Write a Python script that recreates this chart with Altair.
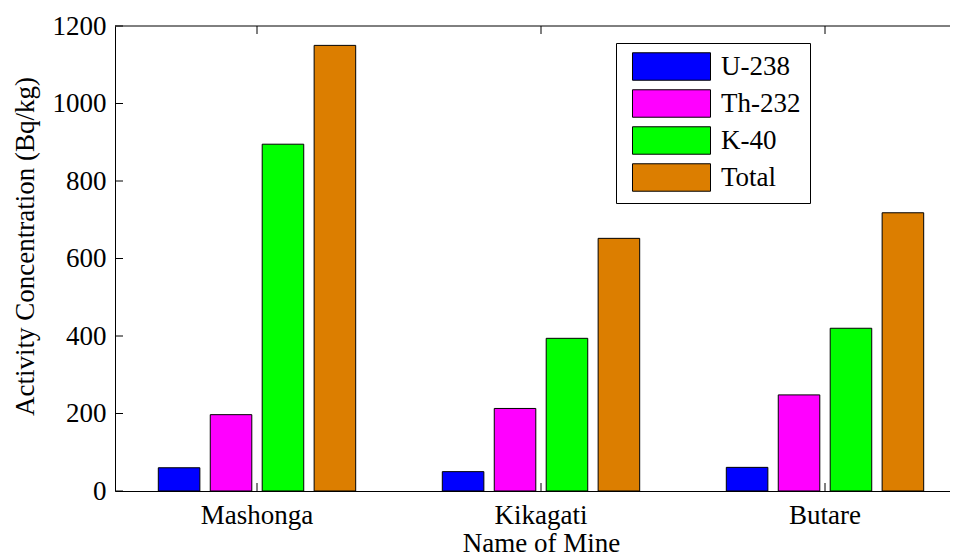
import altair as alt
import pandas as pd

# ---- data ----
mines = ["Mashonga", "Kikagati", "Butare"]
isotopes = ["U-238", "Th-232", "K-40", "Total"]
u238 = [60, 50, 61]
th232 = [197, 213, 248]
k40 = [895, 394, 420]
total = [1150, 652, 718]
colors = ["#0000FF", "#FF00FF", "#00FF00", "#DC7E00"]
y_ticks = [0, 200, 400, 600, 800, 1000, 1200]

rows = []
for i, m in enumerate(mines):
    for iso, vals in zip(isotopes, [u238, th232, k40, total]):
        rows.append({"mine": m, "isotope": iso, "value": vals[i]})
df = pd.DataFrame(rows)
mine_df = pd.DataFrame({"mine": mines})
ytick_df = pd.DataFrame({"value": y_ticks})
one_df = pd.DataFrame({"a": [0]})

# ---- layout ----
W, H = 835, 465          # visible plot area (page is cropped on the right)
RANGE_W = 852            # full x extent of the axes, partly beyond the page
FONT = "Liberation Serif"
FS = 27

xscale = alt.Scale(domain=mines, range=[0, RANGE_W], paddingInner=0.305, paddingOuter=0.1525)
yscale = alt.Scale(domain=[0, 1200], nice=False, zero=True)

xaxis = alt.Axis(title="Name of Mine", orient="bottom", labelAngle=0,
                 ticks=False, tickSize=0, labelPadding=11, titlePadding=2,
                 domain=True, domainColor="black", domainWidth=1, grid=False)
yaxis = alt.Axis(values=y_ticks, format="d", title="Activity Concentration (Bq/kg)",
                 ticks=False, tickSize=0, labelPadding=9, titlePadding=13, titleY=220,
                 domain=True, domainColor="black", domainWidth=1, grid=False)

bars = alt.Chart(df).mark_bar(stroke="black", strokeWidth=1, opacity=1).encode(
    x=alt.X("mine:N", scale=xscale, sort=mines, axis=xaxis),
    xOffset=alt.XOffset("isotope:N", sort=isotopes,
                        scale=alt.Scale(domain=isotopes, paddingInner=0.2, paddingOuter=0)),
    y=alt.Y("value:Q", scale=yscale, axis=yaxis),
    color=alt.Color("isotope:N", sort=isotopes,
                    scale=alt.Scale(domain=isotopes, range=colors),
                    legend=alt.Legend(
                        title=None, orient="none", legendX=501, legendY=17,
                        fillColor="white", strokeColor="black", padding=9,
                        symbolType="M-2.786,-0.98L2.786,-0.98L2.786,0.98L-2.786,0.98Z",
                        symbolSize=784, symbolStrokeColor="black", symbolStrokeWidth=1,
                        symbolOpacity=1, symbolOffset=32,
                        labelFont=FONT, labelFontSize=FS, labelColor="black",
                        labelOffset=35, rowPadding=4, labelLimit=300)),
)

top_ticks = alt.Chart(mine_df).mark_rule(color="black", strokeWidth=1).encode(
    x=alt.X("mine:N", scale=xscale, sort=mines, axis=xaxis),
    y=alt.value(0), y2=alt.value(8))
bottom_ticks = alt.Chart(mine_df).mark_rule(color="black", strokeWidth=1).encode(
    x=alt.X("mine:N", scale=xscale, sort=mines, axis=xaxis),
    y=alt.value(H), y2=alt.value(H - 8))
left_ticks = alt.Chart(ytick_df).mark_rule(color="black", strokeWidth=1).encode(
    y=alt.Y("value:Q", scale=yscale, axis=yaxis),
    x=alt.value(0), x2=alt.value(8))
top_border = alt.Chart(one_df).mark_rule(color="black", strokeWidth=1).encode(
    x=alt.value(0), x2=alt.value(RANGE_W), y=alt.value(0))

chart = alt.layer(bars, bottom_ticks, top_ticks, left_ticks, top_border).properties(
    width=W, height=H,
    autosize=alt.AutoSizeParams(type="none"),
    padding={"left": 107, "top": 18, "right": 0, "bottom": 70},
    background="white",
).configure_view(stroke=None).configure_axis(
    labelFont=FONT, labelFontSize=FS, labelColor="black",
    titleFont=FONT, titleFontSize=FS, titleColor="black", titleFontWeight="normal",
)

chart.save("out.html", embed_options={"renderer": "svg", "actions": False})
